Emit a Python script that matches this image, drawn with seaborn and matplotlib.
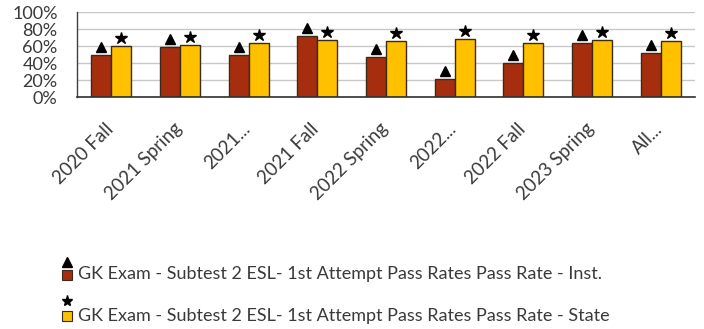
import matplotlib
matplotlib.use("Agg")
import matplotlib.pyplot as plt
import matplotlib.transforms as mtransforms
from matplotlib.lines import Line2D
from matplotlib.patches import Rectangle
from matplotlib.ticker import PercentFormatter
import pandas as pd
import seaborn as sns

# Pass-rate data by term
terms = ["2020 Fall", "2021 Spring", "2021...", "2021 Fall", "2022 Spring",
         "2022...", "2022 Fall", "2023 Spring", "All..."]
inst_rates = [0.50, 0.59, 0.50, 0.72, 0.47, 0.22, 0.40, 0.64, 0.52]
state_rates = [0.60, 0.62, 0.64, 0.67, 0.66, 0.69, 0.64, 0.67, 0.66]
series_names = [
    "GK Exam - Subtest 2 ESL- 1st Attempt Pass Rates Pass Rate - Inst.",
    "GK Exam - Subtest 2 ESL- 1st Attempt Pass Rates Pass Rate - State",
]
series_colors = ["#A62E0F", "#FFC000"]
series_markers = ["^", "*"]
marker_sizes = [7.5, 8.8]
legend_marker_sizes = [6.5, 8]
y_ticks = [0, 0.2, 0.4, 0.6, 0.8, 1.0]

df = pd.DataFrame({
    "term": terms * 2,
    "rate": inst_rates + state_rates,
    "series": [series_names[0]] * len(terms) + [series_names[1]] * len(terms),
})

sns.set_style("white")
plt.rcParams["font.family"] = ["Lato", "DejaVu Sans"]

W, H = 704, 329
fig = plt.figure(figsize=(W / 100, H / 100), dpi=100)
ax = fig.add_axes([77 / W, 1 - 97.3 / H, (695 - 77) / W, (97.3 - 12.3) / H])

edge = "#3C2A18"
sns.barplot(data=df, x="term", y="rate", hue="series", hue_order=series_names,
            palette=series_colors, width=0.58, gap=0, saturation=1,
            edgecolor=edge, linewidth=1, legend=False, ax=ax)

# Marker above each bar, placed from the bar's own height
above = mtransforms.offset_copy(ax.transData, fig=fig, x=0, y=8, units="dots")
for container, mk, ms in zip(ax.containers, series_markers, marker_sizes):
    xs = [b.get_x() + b.get_width() / 2 for b in container]
    ys = [b.get_height() for b in container]
    ax.plot(xs, ys, linestyle="none", marker=mk, markersize=ms,
            color="black", transform=above, clip_on=False)

ax.set_ylim(0, 1)
ax.set_xlim(-0.5, len(terms) - 0.5)
ax.set_yticks(y_ticks)
ax.yaxis.set_major_formatter(PercentFormatter(1.0, decimals=0))
ax.grid(axis="y", color="#C8C8C8", linewidth=1)
ax.set_axisbelow(True)
ax.set_xlabel("")
ax.set_ylabel("")
for side in ["top", "right"]:
    ax.spines[side].set_visible(False)
ax.spines["left"].set_color("#404040")
ax.spines["bottom"].set_color("#303030")
ax.spines["left"].set_linewidth(1)
ax.spines["bottom"].set_linewidth(1.2)

ax.tick_params(axis="y", length=0, pad=14, labelsize=13, labelcolor="#3A3A3A")
ax.tick_params(axis="x", length=0, pad=15, labelsize=13.5, labelcolor="#3A3A3A")
shift = mtransforms.ScaledTranslation(5 / 100, -2 / 100, fig.dpi_scale_trans)
for lab in ax.get_xticklabels():
    lab.set_rotation(45)
    lab.set_ha("right")
    lab.set_va("top")
    lab.set_transform(lab.get_transform() + shift)

# Legend: marker above a colour swatch, then the series name
def px(x, y):
    return x / W, 1 - y / H

rows = [(261.5, 274.5), (300.5, 315.5)]
for (my, sy), name, col, mk, ms in zip(rows, series_names, series_colors,
                                       series_markers, legend_marker_sizes):
    mx, mpy = px(67, my)
    fig.add_artist(Line2D([mx], [mpy], marker=mk, markersize=ms, color="black",
                          linestyle="none", transform=fig.transFigure))
    rx, ry = px(62, sy + 5)
    fig.add_artist(Rectangle((rx, ry), 10 / W, 10 / H, facecolor=col,
                             edgecolor=edge, linewidth=0.8,
                             transform=fig.transFigure))
    tx, ty = px(78, sy)
    fig.text(tx, ty, name, ha="left", va="center", fontsize=13, color="#3A3A3A")

fig.savefig("out.png", dpi=100)
